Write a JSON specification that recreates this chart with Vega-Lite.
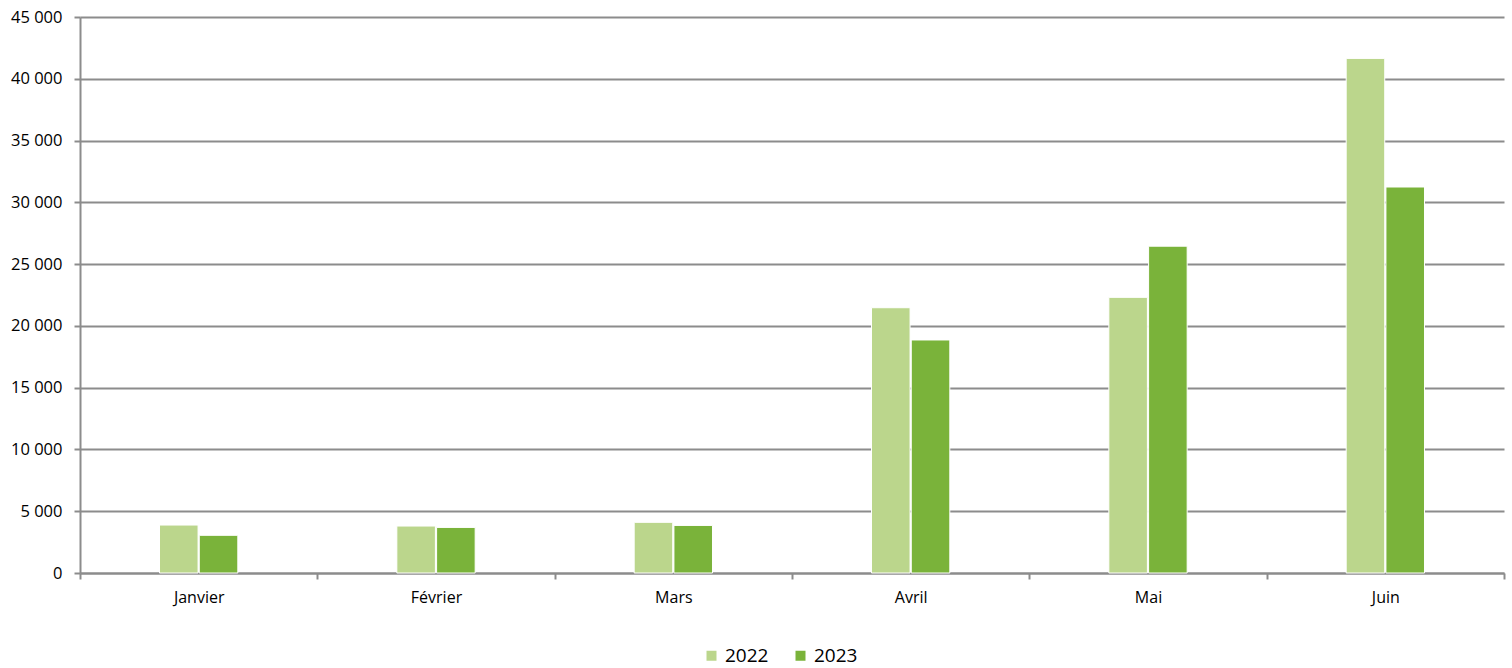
{
  "$schema": "https://vega.github.io/schema/vega-lite/v6.json",
  "width": 1424,
  "height": 556,
  "autosize": {"type": "none"},
  "padding": {"left": 80, "top": 17, "right": 8, "bottom": 95},
  "background": "white",
  "data": {
    "values": [
      {"mois": "Janvier", "annee": "2022", "valeur": 3880},
      {"mois": "Janvier", "annee": "2023", "valeur": 3050},
      {"mois": "Février", "annee": "2022", "valeur": 3800},
      {"mois": "Février", "annee": "2023", "valeur": 3690},
      {"mois": "Mars", "annee": "2022", "valeur": 4100},
      {"mois": "Mars", "annee": "2023", "valeur": 3850},
      {"mois": "Avril", "annee": "2022", "valeur": 21470},
      {"mois": "Avril", "annee": "2023", "valeur": 18860},
      {"mois": "Mai", "annee": "2022", "valeur": 22310},
      {"mois": "Mai", "annee": "2023", "valeur": 26450},
      {"mois": "Juin", "annee": "2022", "valeur": 41650},
      {"mois": "Juin", "annee": "2023", "valeur": 31240}
    ]
  },
  "mark": {"type": "bar", "stroke": "white", "strokeWidth": 1},
  "encoding": {
    "x": {
      "field": "mois",
      "type": "nominal",
      "sort": ["Janvier", "Février", "Mars", "Avril", "Mai", "Juin"],
      "scale": {"paddingInner": 0, "paddingOuter": 0},
      "axis": {
        "title": null,
        "labelAngle": 0,
        "labelFont": "Open Sans",
        "labelFontSize": 16,
        "labelColor": "#000000",
        "labelPadding": 10,
        "tickBand": "extent",
        "tickSize": 6,
        "tickColor": "#8c8c8c",
        "tickWidth": 2,
        "domainColor": "#8c8c8c",
        "domainWidth": 2,
        "grid": false
      }
    },
    "xOffset": {
      "field": "annee",
      "type": "nominal",
      "scale": {"domain": ["_a", "2022", "2023", "_b"], "paddingInner": 0.03, "paddingOuter": 1}
    },
    "y": {
      "field": "valeur",
      "type": "quantitative",
      "scale": {"domain": [0, 45000], "nice": false},
      "axis": {
        "title": null,
        "values": [0, 5000, 10000, 15000, 20000, 25000, 30000, 35000, 40000, 45000],
        "labelExpr": "replace(format(datum.value, ','), ',', ' ')",
        "labelFont": "Open Sans",
        "labelFontSize": 16.5,
        "labelColor": "#000000",
        "labelPadding": 12,
        "tickSize": 6,
        "tickColor": "#8c8c8c",
        "tickWidth": 2,
        "domainColor": "#8c8c8c",
        "domainWidth": 2,
        "grid": true,
        "gridColor": "#8c8c8c",
        "gridWidth": 2
      }
    },
    "color": {
      "field": "annee",
      "type": "nominal",
      "scale": {"domain": ["2022", "2023"], "range": ["#bbd68c", "#7ab33a"]},
      "legend": {
        "title": null,
        "orient": "none",
        "direction": "horizontal",
        "legendX": 622,
        "legendY": 629,
        "symbolType": "square",
        "symbolSize": 100,
        "symbolStrokeWidth": 0,
        "labelFont": "Open Sans",
        "labelFontSize": 19,
        "labelColor": "#000000",
        "labelOffset": 4,
        "columnPadding": 22
      }
    }
  },
  "config": {
    "view": {"stroke": null}
  }
}
